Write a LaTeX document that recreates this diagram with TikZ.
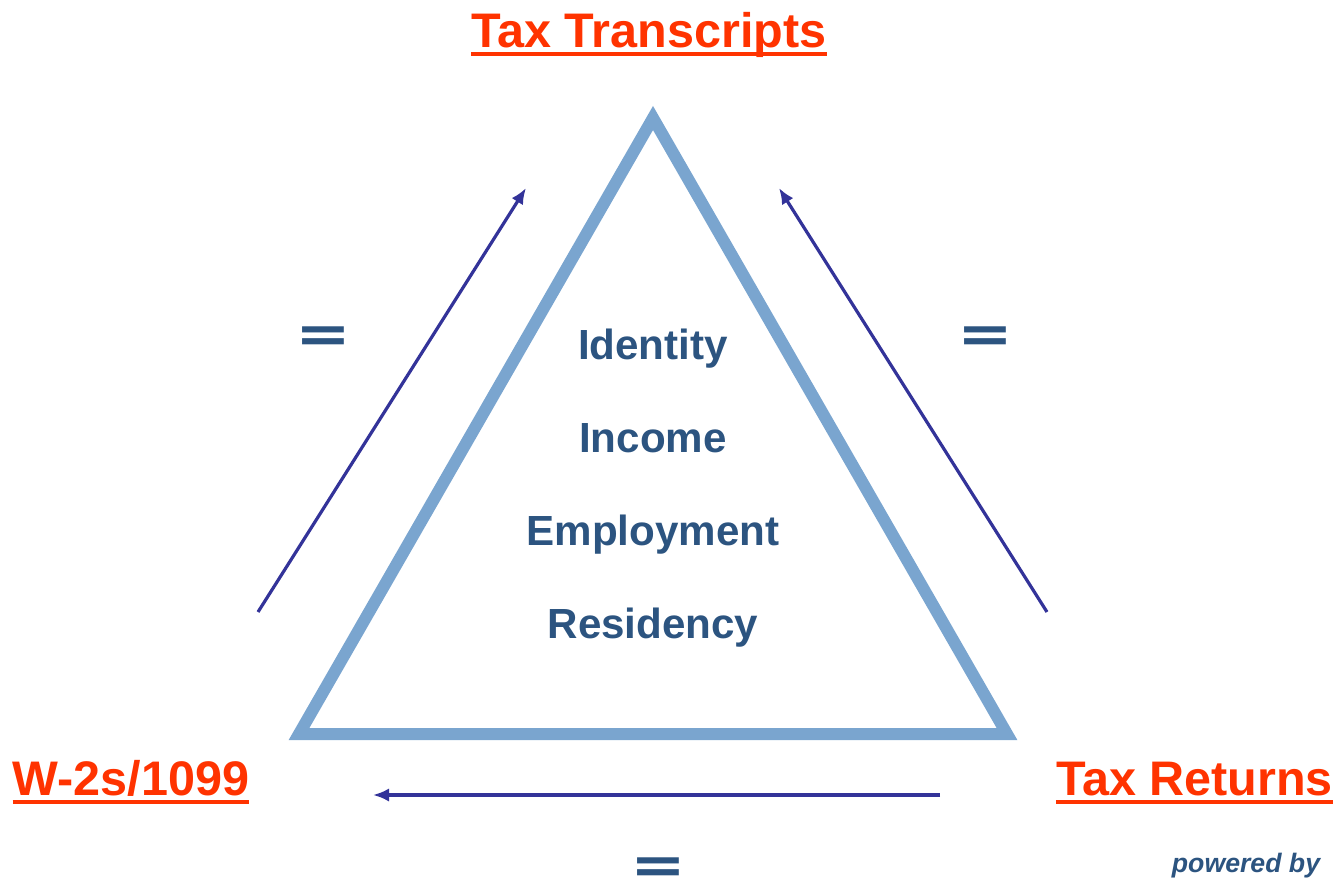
\documentclass[tikz,border=0pt]{standalone}
\usepackage{fontspec}
\setmainfont{Liberation Sans}
\newfontfamily\eqfont{DejaVu Sans}
\usetikzlibrary{arrows.meta}

\definecolor{taxred}{RGB}{255,51,0}
\definecolor{itemblue}{RGB}{44,84,128}
\definecolor{triblue}{RGB}{122,165,207}
\definecolor{flowblue}{RGB}{51,51,153}

\tikzset{
	source/.style={font=\fontsize{36.4}{40}\selectfont\bfseries, text=taxred, inner sep=0pt, anchor=base},
	srcline/.style={draw=taxred, line width=3pt},
	item/.style={font=\fontsize{31.6}{36}\selectfont\bfseries, text=itemblue, inner sep=0pt, anchor=base},
	equal/.style={font=\eqfont\fontsize{40}{40}\selectfont\bfseries, text=itemblue, inner sep=0pt, anchor=base,
		transform shape, xscale=1.25},
	flow/.style={draw=flowblue, line width=2.4pt, -{Latex[length=12pt,width=10pt]}}
}

\begin{document}
\begin{tikzpicture}[x=0.75pt,y=-0.75pt]
	\useasboundingbox (0,0) rectangle (1341,879);

	% the triangle
	\draw[triblue, line width=9pt, line join=miter]
		(653,118) coordinate (apex) -- (1007,734) coordinate (right)
		-- (299,734) coordinate (left) -- cycle;

	% sources at the corners
	\node[source] (trans) at (649,47) {Tax Transcripts};
	\node[source] (w2) at (131,795) {W-2s/1099};
	\node[source] (ret) at (1194.5,795) {Tax Returns};
	\foreach \n in {trans,w2,ret}
		\draw[srcline] ([yshift=-5pt]\n.base west) -- ([yshift=-5pt]\n.base east);

	% what they show
	\node[item] (ident) at (653,359) {Identity};
	\node[item] (inc) at (653,452) {Income};
	\node[item] (emp) at (653,545) {Employment};
	\node[item] (res) at (653,638) {Residency};

	% the flows
	\coordinate (lfrom) at (258,612);
	\coordinate (lto) at (526,188);
	\coordinate (rfrom) at (1047,612);
	\coordinate (rto) at (779,188);
	\coordinate (bfrom) at (940,795);
	\coordinate (bto) at (373,795);
	\draw[flow] (lfrom) -- (lto);
	\draw[flow] (rfrom) -- (rto);
	\draw[flow] (bfrom) -- (bto);

	\node[equal] (eql) at (323,352) {=};
	\node[equal] (eqr) at (985,352) {=};
	\node[equal] (eqb) at (658,883) {=};

	\node[font=\fontsize{20}{24}\selectfont\bfseries\itshape, text=itemblue, inner sep=0pt, anchor=base]
		(pow) at (1246,872) {powered by};
\end{tikzpicture}
\end{document}
